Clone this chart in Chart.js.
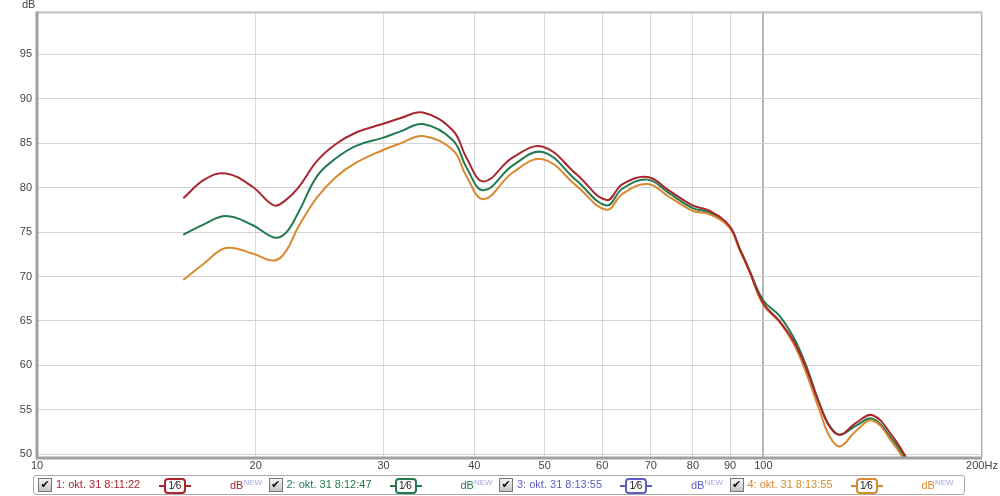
<!DOCTYPE html>
<html>
<head>
    <title>Frequency response</title>
    <script src="https://cdn.jsdelivr.net/npm/chart.js@4.4.0/dist/chart.umd.min.js"></script>
    <style>
        body {
            margin: 0;
            background-color: white;
            font-family: "Liberation Sans", Arial, sans-serif;
        }
        .wrap {
            position: relative;
            width: 1000px;
            height: 496px;
        }
        #unit {
            position: absolute;
            left: 22px;
            top: -2px;
            font-size: 11px;
            color: #444;
        }
        .legend {
            position: absolute;
            left: 33px;
            top: 475px;
            width: 930px;
            height: 18px;
            border: 1px solid #aaa;
            border-radius: 3px;
            font-size: 11px;
        }
        .item {
            position: absolute;
            top: 0;
            height: 18px;
        }
        .chk {
            position: absolute;
            top: 2px;
            width: 12px;
            height: 12px;
            border: 1px solid #777;
            background: linear-gradient(#f4f4f4, #c4c4c4);
            font-size: 11px;
            line-height: 12px;
            text-align: center;
            color: #111;
            font-family: "DejaVu Sans", sans-serif;
        }
        .name {
            position: absolute;
            top: 2px;
            white-space: nowrap;
        }
        .badge {
            position: absolute;
            top: 2px;
            width: 18px;
            height: 12px;
            border: 2px solid;
            border-radius: 4px;
            font-size: 10px;
            line-height: 12px;
            text-align: center;
            color: #222;
        }
        .badge:before, .badge:after {
            content: "";
            position: absolute;
            top: 5px;
            width: 5px;
            border-top: 2px solid;
            border-color: inherit;
        }
        .badge:before { left: -7px; }
        .badge:after { right: -7px; }
        .db {
            position: absolute;
            top: 2px;
        }
        .db sup {
            font-size: 8px;
            color: #a8a8e0;
            vertical-align: 4px;
        }
    </style>
</head>
<body>
    <div class="wrap">
        <canvas id="myChart" width="1000" height="496"></canvas>
        <div id="unit">dB</div>
        <div class="legend" id="legend"></div>
    </div>

    <script>
        // frequencies (Hz) shared by all traces
        const freqs = [15.9, 17.0, 18.2, 19.8, 21.2, 22.0, 22.9, 24.3, 25.8, 27.5, 29.9, 31.6, 34.0, 37.4, 39.0, 41.2,
                       45.2, 49.7, 55.3, 60.8, 64.0, 69.3, 74.1, 79.9, 84.3, 89.8, 92.7, 95.6, 100, 105.2, 110.3,
                       114.5, 119.4, 123.4, 127.5, 134, 141.4, 150.7, 158];

        const trace1 = [78.8, 80.9, 81.6, 80.1, 78.0, 78.6, 80.0, 83.0, 84.9, 86.2, 87.15, 87.8, 88.45, 86.4, 83.4, 80.7,
                        83.4, 84.6, 81.5, 78.6, 80.4, 81.2, 79.7, 78.0, 77.4, 75.7, 73.2, 70.7, 67.0, 65.0, 62.6,
                        59.7, 55.7, 53.1, 52.2, 53.5, 54.4, 52.0, 49.4];
        const trace2 = [74.7, 75.9, 76.8, 75.8, 74.4, 74.9, 77.2, 81.3, 83.3, 84.7, 85.6, 86.3, 87.15, 85.3, 82.3, 79.7,
                        82.5, 84.0, 80.8, 78.0, 79.9, 80.9, 79.4, 77.7, 77.2, 75.6, 73.2, 70.8, 67.3, 65.6, 63.0,
                        60.0, 55.8, 53.2, 52.2, 53.2, 54.0, 51.6, 49.0];
        const trace4 = [69.6, 71.5, 73.2, 72.6, 71.8, 72.8, 75.6, 78.9, 81.2, 82.8, 84.2, 84.95, 85.8, 84.2, 81.3, 78.7,
                        81.7, 83.2, 80.2, 77.5, 79.3, 80.4, 79.0, 77.4, 77.0, 75.5, 73.0, 70.6, 66.8, 64.9, 62.3,
                        59.2, 55.0, 52.0, 50.9, 52.6, 53.8, 51.3, 48.8];

        const xTicks = [10, 20, 30, 40, 50, 60, 70, 80, 90, 100, 200];
        const yTicks = [50, 55, 60, 65, 70, 75, 80, 85, 90, 95];

        const legendItems = [
            { name: '1: okt. 31 8:11:22', color: '#a8262e' },
            { name: '2: okt. 31 8:12:47', color: '#237a50' },
            { name: '3: okt. 31 8:13:55', color: '#5c5cc4' },
            { name: '4: okt. 31 8:13:55', color: '#d88a30' }
        ];

        function points(values) {
            return freqs.map((f, i) => ({ x: f, y: values[i] }));
        }

        // build the legend strip
        const legend = document.getElementById('legend');
        legendItems.forEach((item, i) => {
            const div = document.createElement('div');
            div.className = 'item';
            div.style.left = (4 + i * 230.5) + 'px';
            div.innerHTML =
                '<span class="chk">✔</span>' +
                '<span class="name" style="left:18px;color:' + item.color + '">' + item.name + '</span>' +
                '<span class="badge" style="left:126px;border-color:' + item.color + '">1⁄6</span>' +
                '<span class="db" style="left:192px;color:' + item.color + '">dB<sup>NEW</sup></span>';
            legend.appendChild(div);
        });

        const framePlugin = {
            id: 'frame',
            afterDraw(chart) {
                const a = chart.chartArea;
                const ctx = chart.ctx;
                ctx.save();
                ctx.strokeStyle = '#b4b4b4';
                ctx.lineWidth = 1;
                ctx.strokeRect(a.left + 0.5, a.top + 0.5, a.right - a.left - 1, a.bottom - a.top);
                ctx.strokeStyle = '#c4c4c4';
                ctx.lineWidth = 2;
                ctx.beginPath();
                ctx.moveTo(a.left, a.top + 1);
                ctx.lineTo(a.right, a.top + 1);
                ctx.stroke();
                ctx.strokeStyle = '#a0a0a0';
                ctx.lineWidth = 3;
                ctx.beginPath();
                ctx.moveTo(a.left, a.top);
                ctx.lineTo(a.left, a.bottom + 1);
                ctx.lineTo(a.right, a.bottom + 1);
                ctx.stroke();
                ctx.restore();
            }
        };

        const ctx = document.getElementById('myChart').getContext('2d');
        const chart = new Chart(ctx, {
            type: 'line',
            data: {
                datasets: [
                    { data: points(trace1), borderColor: '#a8262e' },
                    { data: points(trace4), borderColor: '#d88a30' },
                    { data: points(trace2), borderColor: '#237a50' }
                ]
            },
            options: {
                responsive: false,
                animation: false,
                layout: { padding: { top: 11, right: 18, bottom: 24, left: 0 } },
                elements: {
                    line: { borderWidth: 2, tension: 0.4 },
                    point: { radius: 0 }
                },
                plugins: {
                    legend: { display: false },
                    tooltip: { enabled: false }
                },
                scales: {
                    x: {
                        type: 'logarithmic',
                        min: 10,
                        max: 200,
                        afterBuildTicks: s => { s.ticks = xTicks.map(v => ({ value: v })); },
                        afterFit: s => { s.height = 15; },
                        ticks: {
                            autoSkip: false,
                            maxRotation: 0,
                            padding: 2,
                            color: '#444',
                            font: { family: '"Liberation Sans", Arial', size: 11 },
                            callback: v => v === 200 ? '200Hz' : String(v)
                        },
                        grid: {
                            drawTicks: false,
                            color: c => c.tick && c.tick.value === 100 ? '#b8b8b8' : '#dadada',
                            lineWidth: c => c.tick && c.tick.value === 100 ? 2 : 1
                        },
                        border: { display: false }
                    },
                    y: {
                        min: 49.7,
                        max: 99.8,
                        afterBuildTicks: s => { s.ticks = yTicks.map(v => ({ value: v })); },
                        afterFit: s => { s.width = 37; },
                        ticks: {
                            padding: 5,
                            color: '#444',
                            font: { family: '"Liberation Sans", Arial', size: 11 }
                        },
                        grid: { drawTicks: false, color: '#d4d4d4' },
                        border: { display: false }
                    }
                }
            },
            plugins: [framePlugin]
        });
    </script>
</body>
</html>
